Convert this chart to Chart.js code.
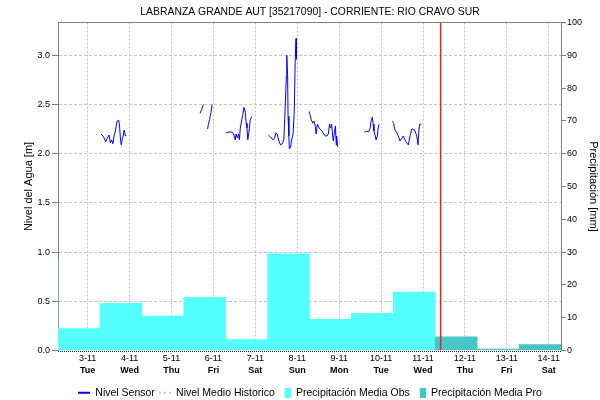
<!DOCTYPE html>
<html>
<head>
<meta charset="utf-8">
<title>LABRANZA GRANDE AUT</title>
<script src="https://cdn.jsdelivr.net/npm/chart.js@4.4.1/dist/chart.umd.min.js"></script>
<style>
  html, body { margin: 0; padding: 0; background: #fff; overflow: hidden; }
  #caja { position: relative; width: 600px; height: 408px; }
</style>
</head>
<body>
<div id="caja"><canvas id="grafico"></canvas></div>
<script>
// eje x en dias de noviembre (3 = 3-11 00:00)
const DIAS = [3, 4, 5, 6, 7, 8, 9, 10, 11, 12, 13, 14];
const FECHAS = ['3-11', '4-11', '5-11', '6-11', '7-11', '8-11', '9-11', '10-11', '11-11', '12-11', '13-11', '14-11'];
const SEMANA = ['Tue', 'Wed', 'Thu', 'Fri', 'Sat', 'Sun', 'Mon', 'Tue', 'Wed', 'Thu', 'Fri', 'Sat'];
const HORA_CORTE = 7; // la precipitacion diaria se acumula de 07:00 a 07:00
const INICIO = 2 + HORA_CORTE / 24;
const FIN = 14 + HORA_CORTE / 24;

const TICKS_NIVEL = [0, 0.5, 1, 1.5, 2, 2.5, 3];
const TICKS_PRECIP = [0, 10, 20, 30, 40, 50, 60, 70, 80, 90, 100];

// precipitacion media [mm], el dia indica el comienzo del periodo
const diasObs = [1, 2, 3, 4, 5, 6, 7, 8, 9, 10];
const precipObs = [27.7, 6.7, 14.4, 10.5, 16.2, 3.3, 29.5, 9.5, 11.3, 17.8];
const diasPro = [11, 12, 13];
const precipPro = [4.2, 0.4, 1.8];

// nivel del sensor [m] por tramos continuos: [dia, nivel]
const tramo1 = [[3.32, 2.20], [3.38, 2.17], [3.43, 2.12], [3.47, 2.16], [3.51, 2.19], [3.54, 2.11], [3.57, 2.14],
  [3.60, 2.10], [3.63, 2.18], [3.66, 2.23], [3.68, 2.28], [3.70, 2.33], [3.74, 2.34], [3.76, 2.28], [3.78, 2.16],
  [3.80, 2.09], [3.82, 2.14], [3.85, 2.19], [3.87, 2.24], [3.90, 2.18], [3.91, 2.19]];
const tramo2 = [[5.68, 2.41], [5.72, 2.45], [5.76, 2.50]];
const tramo3 = [[5.86, 2.25], [5.88, 2.30], [5.91, 2.35], [5.94, 2.42], [5.97, 2.50]];
const tramo4 = [[6.30, 2.21], [6.36, 2.22], [6.44, 2.22], [6.48, 2.20], [6.52, 2.14], [6.54, 2.20], [6.57, 2.16],
  [6.60, 2.20], [6.62, 2.14], [6.64, 2.26], [6.68, 2.35], [6.70, 2.40], [6.73, 2.47], [6.76, 2.42], [6.78, 2.31],
  [6.80, 2.26], [6.82, 2.14], [6.85, 2.23], [6.88, 2.35], [6.92, 2.38]];
const tramo5 = [[7.31, 2.19], [7.36, 2.17], [7.42, 2.14], [7.46, 2.16], [7.49, 2.21], [7.52, 2.20], [7.56, 2.13],
  [7.60, 2.09], [7.64, 2.10], [7.68, 2.14], [7.70, 2.35], [7.74, 2.79], [7.75, 3.00], [7.77, 2.79], [7.78, 2.38],
  [7.80, 2.18], [7.81, 2.05], [7.84, 2.06], [7.86, 2.13], [7.90, 2.20], [7.93, 2.45], [7.95, 2.93], [7.97, 3.17],
  [7.98, 2.96]];
const tramo6 = [[8.28, 2.43], [8.31, 2.39], [8.33, 2.35], [8.37, 2.31], [8.40, 2.33], [8.43, 2.28], [8.45, 2.20],
  [8.48, 2.30], [8.52, 2.26], [8.55, 2.25], [8.59, 2.23], [8.63, 2.20], [8.67, 2.18], [8.71, 2.18], [8.74, 2.20],
  [8.77, 2.30], [8.79, 2.26], [8.82, 2.30], [8.84, 2.20], [8.86, 2.13], [8.89, 2.23], [8.91, 2.28], [8.93, 2.09],
  [8.94, 2.18], [8.96, 2.07]];
const tramo7 = [[9.60, 2.22], [9.66, 2.23], [9.70, 2.22], [9.74, 2.26], [9.76, 2.33], [9.79, 2.37], [9.81, 2.30],
  [9.83, 2.23], [9.86, 2.18], [9.88, 2.14], [9.91, 2.18], [9.93, 2.26], [9.95, 2.30]];
const tramo8 = [[10.27, 2.33], [10.30, 2.31], [10.32, 2.25], [10.35, 2.23], [10.38, 2.21], [10.41, 2.18], [10.45, 2.13],
  [10.50, 2.16], [10.53, 2.18], [10.57, 2.14], [10.61, 2.11], [10.65, 2.09], [10.69, 2.18], [10.73, 2.25], [10.77, 2.25],
  [10.81, 2.23], [10.85, 2.18], [10.88, 2.09], [10.90, 2.23], [10.92, 2.30], [10.96, 2.30]];
const tramosSensor = [tramo1, tramo2, tramo3, tramo4, tramo5, tramo6, tramo7, tramo8];

const AHORA = 11.42; // hora de la ultima actualizacion

const FUENTE = '"Liberation Sans", Arial, sans-serif';
Chart.defaults.font.family = FUENTE;
Chart.defaults.color = '#000';

// une los tramos con un punto nulo para cortar la linea
const datosSensor = [];
tramosSensor.forEach((tramo, i) => {
  if (i > 0) datosSensor.push({ x: tramo[0][0] - 0.01, y: null });
  tramo.forEach(p => datosSensor.push({ x: p[0], y: p[1] }));
});

const barras = (dias, valores) => dias.map((d, i) => ({ x: d + (HORA_CORTE + 12) / 24, y: valores[i] }));

// iconos de la leyenda
function icono(dibujar) {
  const c = document.createElement('canvas');
  c.width = 12;
  c.height = 10;
  dibujar(c.getContext('2d'));
  return c;
}
const icoSensor = icono(c => { c.fillStyle = '#0000ff'; c.fillRect(0, 4, 12, 2); });
const icoHistorico = icono(c => { c.fillStyle = '#c8c8c8'; [0, 5, 10].forEach(x => c.fillRect(x, 4, 2, 2)); });
const icoObs = icono(c => { c.fillStyle = '#55ffff'; c.fillRect(6, 0, 6, 10); });
const icoPro = icono(c => { c.fillStyle = '#46c6c6'; c.fillRect(6, 0, 6, 10); });

// marco del area: linea gris arriba y linea punteada abajo
const marcoArea = {
  id: 'marcoArea',
  beforeDatasetsDraw(chart) {
    const { ctx, chartArea } = chart;
    const arriba = Math.round(chartArea.top) + 0.5;
    ctx.save();
    ctx.lineWidth = 1;
    ctx.strokeStyle = '#808080';
    ctx.beginPath();
    ctx.moveTo(chartArea.left, arriba);
    ctx.lineTo(chartArea.right, arriba);
    ctx.stroke();
    ctx.restore();
  },
  afterDatasetsDraw(chart) {
    const { ctx, chartArea } = chart;
    const abajo = Math.round(chartArea.bottom) + 0.5;
    ctx.save();
    ctx.lineWidth = 1;
    ctx.strokeStyle = '#222';
    ctx.setLineDash([1, 1]);
    ctx.beginPath();
    ctx.moveTo(chartArea.left, abajo);
    ctx.lineTo(chartArea.right, abajo);
    ctx.stroke();
    ctx.restore();
  }
};

const fuenteTicks = { size: 9, family: FUENTE };

new Chart(document.getElementById('grafico'), {
  type: 'line',
  data: {
    datasets: [
      {
        label: 'Actual',
        data: [{ x: AHORA, y: 0 }, { x: AHORA, y: 100 }],
        yAxisID: 'yP',
        borderColor: '#ff1a1a',
        borderWidth: 1.5,
        pointRadius: 0,
        order: 0
      },
      {
        label: 'Nivel Sensor',
        data: datosSensor,
        yAxisID: 'y',
        borderColor: '#0000ff',
        borderWidth: 1,
        pointRadius: 0,
        spanGaps: false,
        tension: 0,
        order: 1
      },
      {
        label: 'Nivel Medio Historico',
        data: [],
        yAxisID: 'y',
        borderColor: '#c8c8c8',
        borderDash: [3, 2],
        borderWidth: 1,
        pointRadius: 0,
        order: 2
      },
      {
        type: 'bar',
        label: 'Precipitación Media Pro',
        data: barras(diasPro, precipPro),
        yAxisID: 'yP',
        backgroundColor: '#46c6c6',
        borderWidth: 0,
        grouped: false,
        barPercentage: 1,
        categoryPercentage: 1,
        order: 3
      },
      {
        type: 'bar',
        label: 'Precipitación Media Obs',
        data: barras(diasObs, precipObs),
        yAxisID: 'yP',
        backgroundColor: '#55ffff',
        borderWidth: 0,
        grouped: false,
        barPercentage: 1,
        categoryPercentage: 1,
        order: 4
      }
    ]
  },
  options: {
    responsive: true,
    maintainAspectRatio: false,
    animation: false,
    events: [],
    layout: { padding: { left: 20, right: 0, top: 0, bottom: 0 } },
    scales: {
      x: {
        type: 'linear',
        position: 'bottom',
        weight: 0,
        offset: false,
        min: INICIO,
        max: FIN,
        afterBuildTicks: s => { s.ticks = DIAS.map(v => ({ value: v })); },
        afterFit: s => { s.height = 14; },
        ticks: {
          autoSkip: false,
          maxRotation: 0,
          padding: 3,
          font: fuenteTicks,
          color: '#000',
          callback: (v, i) => FECHAS[i]
        },
        grid: { offset: false, color: '#c4c4c4', drawTicks: false },
        border: { display: false, dash: [2, 2] }
      },
      x2: {
        type: 'linear',
        position: 'bottom',
        weight: 1,
        offset: false,
        min: INICIO,
        max: FIN,
        afterBuildTicks: s => { s.ticks = DIAS.map(v => ({ value: v })); },
        afterFit: s => { s.height = 19; },
        ticks: {
          autoSkip: false,
          maxRotation: 0,
          padding: 1,
          font: { size: 9, family: FUENTE, weight: 'bold' },
          color: '#000',
          callback: (v, i) => SEMANA[i]
        },
        grid: { display: false, drawTicks: false },
        border: { display: false }
      },
      y: {
        type: 'linear',
        position: 'left',
        min: 0,
        max: 100 / 30,
        afterBuildTicks: s => { s.ticks = TICKS_NIVEL.map(v => ({ value: v })); },
        afterFit: s => { s.width = 38; },
        ticks: {
          padding: 2,
          font: fuenteTicks,
          color: '#000',
          callback: v => v.toFixed(1)
        },
        grid: {
          color: ctx => (ctx.tick && ctx.tick.value === 0 ? 'rgba(0,0,0,0)' : '#c4c4c4'),
          tickLength: 6,
          tickColor: '#808080',
          tickBorderDash: []
        },
        border: { color: '#808080', dash: [3, 2] },
        title: {
          display: true,
          text: 'Nivel del Agua [m]',
          font: { size: 11, family: FUENTE },
          color: '#000',
          padding: { top: 2, bottom: 0 }
        }
      },
      yP: {
        type: 'linear',
        position: 'right',
        min: 0,
        max: 100,
        afterBuildTicks: s => { s.ticks = TICKS_PRECIP.map(v => ({ value: v })); },
        afterFit: s => { s.width = 39; },
        ticks: {
          padding: 1,
          font: fuenteTicks,
          color: '#000'
        },
        grid: {
          drawOnChartArea: false,
          tickLength: 5,
          tickColor: '#808080'
        },
        border: { color: '#808080' },
        title: {
          display: true,
          text: 'Precipitación [mm]',
          font: { size: 11, family: FUENTE },
          color: '#000',
          padding: { top: 0, bottom: 0 }
        }
      }
    },
    plugins: {
      title: {
        display: true,
        text: 'LABRANZA GRANDE AUT [35217090] - CORRIENTE: RIO CRAVO SUR',
        font: { size: 10.4, family: FUENTE, weight: 'normal' },
        color: '#000',
        padding: { top: 6, bottom: 4 }
      },
      legend: {
        position: 'bottom',
        labels: {
          usePointStyle: true,
          pointStyleWidth: 12,
          padding: 4,
          font: { size: 10.5, family: FUENTE },
          color: '#111',
          generateLabels: () => [
            { text: 'Nivel Sensor', pointStyle: icoSensor, datasetIndex: 1, lineWidth: 0 },
            { text: 'Nivel Medio Historico', pointStyle: icoHistorico, datasetIndex: 2, lineWidth: 0 },
            { text: 'Precipitación Media Obs', pointStyle: icoObs, datasetIndex: 4, lineWidth: 0 },
            { text: 'Precipitación Media Pro', pointStyle: icoPro, datasetIndex: 3, lineWidth: 0 }
          ]
        }
      },
      tooltip: { enabled: false }
    }
  },
  plugins: [marcoArea]
});
</script>
</body>
</html>
